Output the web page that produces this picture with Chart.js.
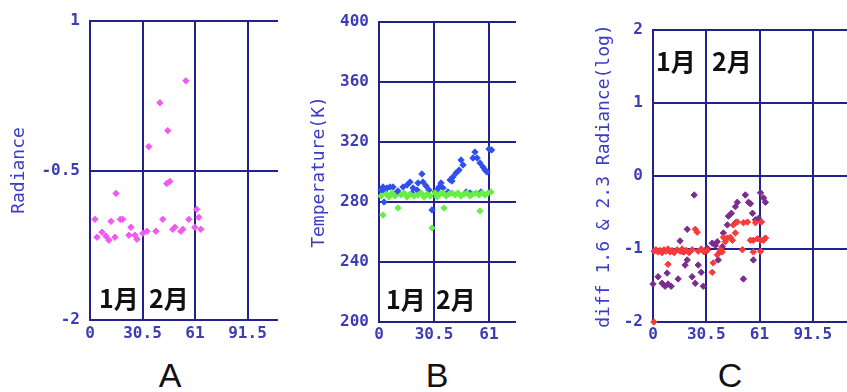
<!DOCTYPE html>
<html>
<head>
<meta charset="utf-8">
<script src="https://cdn.jsdelivr.net/npm/chart.js@4"></script>
<style>
  body { margin: 0; background: #fff; }
  .panel { position: absolute; overflow: hidden; }
  .month { position: absolute; font-family: "Noto Sans CJK JP"; font-weight: bold; font-size: 25px; line-height: 1; color: #111; }
  .letter { position: absolute; font-family: "Liberation Sans"; font-size: 34px; line-height: 1; color: #111; width: 60px; text-align: center; }
</style>
</head>
<body>
<div class="panel" style="left:0;top:0;width:278px;height:350px"><canvas id="chartA" width="330" height="350"></canvas></div>
<div class="panel" style="left:290px;top:0;width:226px;height:350px"><canvas id="chartB" width="339" height="350"></canvas></div>
<div class="panel" style="left:580px;top:0;width:267px;height:350px"><canvas id="chartC" width="316" height="350"></canvas></div>

<div class="month" style="left:99px;top:285px">1月</div>
<div class="month" style="left:149px;top:285px">2月</div>
<div class="month" style="left:386px;top:286px">1月</div>
<div class="month" style="left:436px;top:286px">2月</div>
<div class="month" style="left:656px;top:48px">1月</div>
<div class="month" style="left:712px;top:48px">2月</div>

<div class="letter" style="left:140px;top:358px">A</div>
<div class="letter" style="left:407px;top:358px">B</div>
<div class="letter" style="left:700px;top:358px">C</div>

<script>
// day of year ticks shared by all panels
const xTicks = [0, 30.5, 61, 91.5, 122];

// A: radiance
const aTicks = [-2, -0.5, 1];
const aDays = [2.9, 4.1, 7.0, 9.3, 11.0, 12.2, 14.5, 15.1, 17.6, 19.0, 22.6, 23.8, 26.1, 27.3, 30.7, 33.1, 34.2,
  38.3, 40.6, 42.3, 44.6, 45.2, 46.4, 48.1, 49.3, 52.8, 53.9, 55.7, 57.4, 60.9, 62.0, 63.2, 64.4];
const aRadiance = [-0.99, -1.17, -1.12, -1.16, -1.20, -1.01, -1.17, -0.73, -0.99, -0.99, -1.15, -1.07, -1.15, -1.19, -1.13, -1.11, -0.26,
  -1.11, 0.18, -0.99, -0.63, -0.10, -0.61, -1.09, -1.07, -1.11, -1.09, 0.40, -0.99, -1.07, -0.89, -0.97, -1.09];

// B: temperature, two bands
const bTicks = [200, 240, 280, 320, 360, 400];
const bDaysBlue = [1.1, 2.2, 2.8, 3.3, 4.4, 6.1, 7.8, 9.4, 10.5, 13.3, 15.5, 17.2, 18.3, 18.9, 21.1, 21.6, 23.8, 24.4, 26.1, 27.7,
  29.4, 31.1, 32.2, 33.3, 34.4, 35.5, 38.3, 39.4, 40.5, 41.0, 42.7, 44.4, 45.5, 46.6, 48.3, 50.5, 52.1, 53.2, 54.4, 56.0,
  56.6, 57.7, 58.8, 59.9, 61.0, 62.4];
const bTempBlue = [288, 290, 280, 286.7, 289.3, 290, 290, 286, 287.3, 290, 291.3, 293.3, 286, 289.3, 288, 292.7, 298.7, 293.3, 290.7, 288,
  274.7, 286.7, 288, 290, 292.7, 289.3, 286.7, 294.7, 294, 296.7, 299.3, 301.3, 308, 304.7, 286.7, 286, 309.3, 313.3, 309.3, 306,
  286.7, 303.3, 301.3, 300, 315.3, 314.7];
const bDaysGreen = [1.1, 2.2, 3.9, 5.5, 7.2, 8.9, 10.5, 12.2, 13.9, 15.5, 17.2, 19.4, 21.6, 23.3, 25.0, 26.6, 28.3, 29.4, 31.1, 32.2,
  33.8, 35.5, 36.0, 37.2, 38.8, 40.5, 42.2, 43.8, 45.5, 47.1, 48.8, 50.5, 52.1, 53.8, 55.5, 56.0, 57.1, 58.8, 60.5, 62.1];
const bTempGreen = [284, 271.3, 285.3, 283.3, 286, 284, 276, 284.7, 286, 283.3, 285.3, 284, 284.7, 286, 283.3, 285.3, 284, 262.7, 286, 283.3,
  285.3, 286, 276, 284, 285.3, 286, 284.7, 286, 284, 285.3, 286, 284, 285.3, 286, 284.7, 274, 286, 284.7, 286, 286.7];

// C: diff 1.6 & 2.3 radiance (log)
const cTicks = [-2, -1, 0, 1, 2];
const cDaysPurple = [0, 2.9, 5.2, 6.9, 8.1, 8.6, 10.4, 14.4, 15.5, 17.3, 18.4, 19.6, 19.6, 22.4, 23.6, 24.2, 25.9, 27.6, 28.8, 29.3,
  31.1, 33.9, 35.7, 36.8, 37.4, 38.5, 39.7, 40.3, 42.6, 43.2, 44.9, 47.2, 47.2, 48.3, 51.8, 52.9, 54.7, 55.8, 57.0, 57.5,
  58.7, 60.4, 61.6, 63.3, 64.4];
const cDiffPurple = [-1.48, -1.38, -1.47, -1.51, -1.33, -1.48, -1.51, -1.41, -0.89, -1.04, -1.22, -0.73, -1.15, -1.38, -0.26, -1.47, -1.22, -1.32, -1.51, -1.03,
  -0.99, -0.92, -0.95, -0.90, -1.15, -1.04, -0.97, -0.78, -0.67, -0.55, -0.51, -0.42, -0.64, -0.36, -1.41, -0.26, -0.36, -0.38, -0.51, -1.15,
  -0.60, -0.58, -0.23, -0.30, -0.36];
const cDaysRed = [0.5, 0.6, 1.7, 2.9, 4.0, 5.2, 6.3, 7.5, 8.6, 8.6, 9.8, 10.9, 12.1, 13.8, 15.5, 16.7, 17.8, 19.0, 20.7, 22.4,
  24.2, 25.3, 25.9, 27.6, 29.3, 31.1, 33.9, 34.5, 36.8, 38.5, 39.7, 40.3, 41.4, 42.6, 44.3, 45.5, 46.0, 47.2, 48.3, 51.2,
  51.8, 54.1, 55.8, 57.5, 57.5, 58.7, 59.8, 61.6, 61.6, 62.1, 63.3, 64.4];
const cDiffRed = [-2.0, -1.03, -1.01, -1.04, -1.02, -1.05, -1.01, -1.03, -1.00, -1.21, -1.04, -1.02, -1.05, -1.01, -1.03, -1.00, -1.04, -1.02, -1.05, -1.01,
  -0.73, -0.77, -1.03, -1.00, -1.04, -1.02, -1.32, -1.19, -1.08, -1.01, -1.04, -0.84, -0.90, -0.85, -0.84, -0.88, -0.67, -0.78, -0.63, -1.01,
  -0.64, -0.63, -0.88, -0.88, -1.04, -0.64, -0.86, -0.88, -1.03, -0.63, -0.88, -0.85];

const gridColor = '#22228c';
const tickColor = '#3c3cb4';
const titleColor = '#3c3cc8';

function points(xs, ys) {
  return xs.map((x, i) => ({ x: x, y: ys[i] }));
}

function dataset(xs, ys, color) {
  return {
    data: points(xs, ys),
    clip: false,
    pointStyle: 'rectRot',
    pointRadius: 3.2,
    borderWidth: 1,
    borderColor: color,
    backgroundColor: color
  };
}

// p: yTicks, title, plotTop, plotBottom, axisWidth, titlePad, xPad
function makePanel(id, datasets, p) {
  const canvas = document.getElementById(id);
  return new Chart(canvas, {
    type: 'scatter',
    data: { datasets: datasets },
    options: {
      responsive: false,
      animation: false,
      devicePixelRatio: 1,
      layout: { padding: { top: p.plotTop, left: 0, right: 30, bottom: 0 } },
      plugins: { legend: { display: false }, tooltip: { enabled: false } },
      scales: {
        x: {
          type: 'linear',
          min: xTicks[0],
          max: xTicks[xTicks.length - 1],
          afterBuildTicks: s => { s.ticks = xTicks.map(v => ({ value: v })); },
          afterFit: s => { s.height = canvas.height - p.plotBottom; },
          grid: { color: gridColor, lineWidth: 2, drawTicks: false },
          border: { color: gridColor, width: 2 },
          ticks: {
            padding: p.xPad,
            color: tickColor,
            maxRotation: 0,
            font: { family: 'DejaVu Sans Mono', size: 16, weight: 'bold' },
            callback: v => String(v)
          }
        },
        y: {
          type: 'linear',
          min: p.yTicks[0],
          max: p.yTicks[p.yTicks.length - 1],
          afterBuildTicks: s => { s.ticks = p.yTicks.map(v => ({ value: v })); },
          afterFit: s => { s.width = p.axisWidth; },
          grid: { color: gridColor, lineWidth: 2, drawTicks: false },
          border: { color: gridColor, width: 2 },
          ticks: {
            padding: 10,
            color: tickColor,
            font: { family: 'DejaVu Sans Mono', size: 16, weight: 'bold' },
            callback: v => String(v)
          },
          title: {
            display: true,
            text: p.title,
            color: titleColor,
            font: { family: 'DejaVu Sans Mono', size: 18 },
            padding: { top: p.titlePad, bottom: 0 }
          }
        }
      }
    }
  });
}

makePanel('chartA', [dataset(aDays, aRadiance, '#f05af0')], {
  yTicks: aTicks, title: 'Radiance', plotTop: 21, plotBottom: 320, axisWidth: 90, titlePad: 9, xPad: 4
});

makePanel('chartB', [
  dataset(bDaysGreen, bTempGreen, '#66ee44'),
  dataset(bDaysBlue, bTempBlue, '#2f4fef')
], {
  yTicks: bTicks, title: 'Temperature(K)', plotTop: 22, plotBottom: 322, axisWidth: 89, titlePad: 19, xPad: 3
});

makePanel('chartC', [
  dataset(cDaysRed, cDiffRed, '#f53b3b'),
  dataset(cDaysPurple, cDiffPurple, '#7b2d8e')
], {
  yTicks: cTicks, title: 'diff 1.6 & 2.3 Radiance(log)', plotTop: 30, plotBottom: 322, axisWidth: 73, titlePad: 14, xPad: 3
});
</script>
</body>
</html>
